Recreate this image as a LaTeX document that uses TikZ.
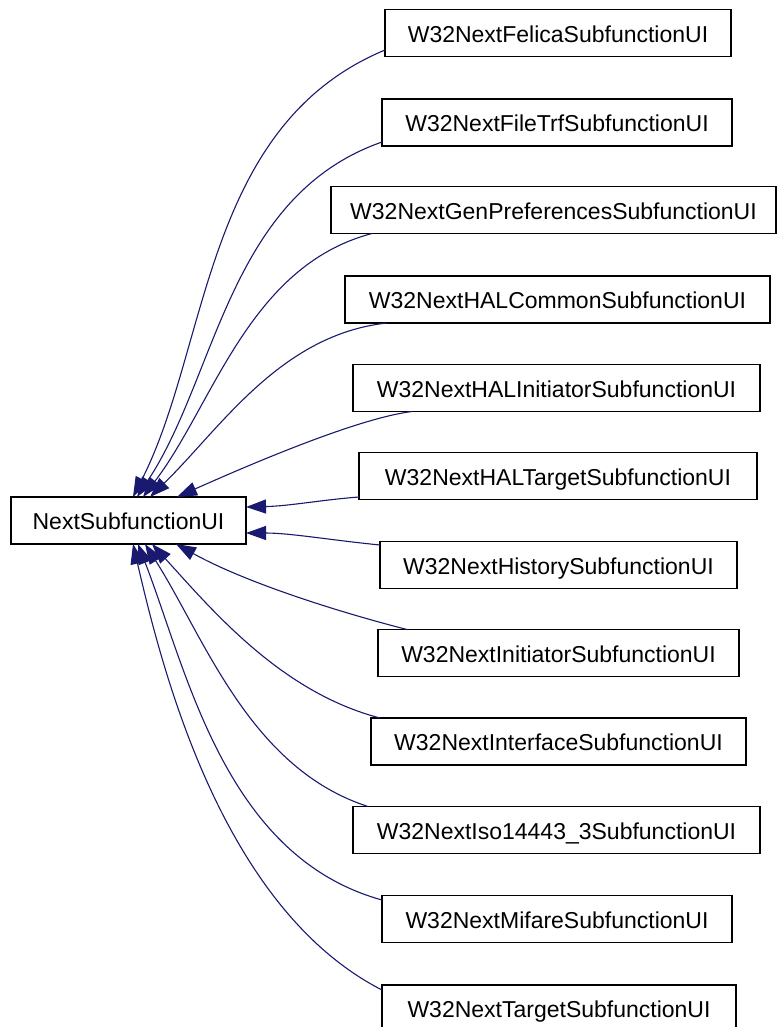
\documentclass[tikz,border=0pt]{standalone}
\usepackage{fontspec}
\setmainfont{Liberation Sans}
\usetikzlibrary{arrows.meta}
\definecolor{edgeblue}{RGB}{25,25,112}
\begin{document}
\begin{tikzpicture}[x=1pt,y=-1pt,
  cls/.style={draw=black, line width=1.2pt, fill=white, inner sep=0pt, outer sep=0pt,
    minimum height=47pt, text height=18.5pt, text depth=0pt,
    font=\fontsize{23}{27}\selectfont},
  inherit/.style={draw=edgeblue, line width=1.1pt,
    -{Triangle[length=20pt,width=14pt]}},
]
\clip (0,0) rectangle (777,1027);
\fill[white] (0,0) rectangle (777,1027);

% base class
\node[cls, minimum width=235pt] (main) at (128.5,520.5) {NextSubfunctionUI};

% derived classes
\node[cls, minimum width=346pt] (felica)    at (558,33)      {W32NextFelicaSubfunctionUI};
\node[cls, minimum width=350pt] (filetrf)   at (557,122.5)   {W32NextFileTrfSubfunctionUI};
\node[cls, minimum width=445pt] (genpref)   at (553.5,210)   {W32NextGenPreferencesSubfunctionUI};
\node[cls, minimum width=425pt] (halcommon) at (557.5,299.5) {W32NextHALCommonSubfunctionUI};
\node[cls, minimum width=407pt] (halinit)   at (556.5,388)   {W32NextHALInitiatorSubfunctionUI};
\node[cls, minimum width=398pt] (haltarget) at (558,476)     {W32NextHALTargetSubfunctionUI};
\node[cls, minimum width=357pt] (history)   at (558.5,565)   {W32NextHistorySubfunctionUI};
\node[cls, minimum width=361pt] (initiator) at (558.5,653)   {W32NextInitiatorSubfunctionUI};
\node[cls, minimum width=375pt] (interface) at (558.5,741.5) {W32NextInterfaceSubfunctionUI};
\node[cls, minimum width=407pt] (iso)       at (556.5,830)   {W32NextIso14443\_3SubfunctionUI};
\node[cls, minimum width=350pt] (mifare)    at (557,919)     {W32NextMifareSubfunctionUI};
\node[cls, minimum width=354pt] (target)    at (559,1008.5)  {W32NextTargetSubfunctionUI};

% inheritance edges
\draw[inherit] ([yshift=-17pt]felica.west) .. controls (203.5,125.5) and (209.5,346.5) .. ([xshift=4.5pt]main.north);
\draw[inherit] ([yshift=-19.5pt]filetrf.west) .. controls (228.3,195.8) and (217.2,375.7) .. ([xshift=8.5pt]main.north);
\draw[inherit] ([xshift=41pt]genpref.south west) .. controls (248.8,265.9) and (213.7,403.9) .. ([xshift=14.5pt]main.north);
\draw[inherit] ([xshift=42pt]halcommon.south west) .. controls (280.4,334.5) and (220.3,428.5) .. ([xshift=21.5pt]main.north);
\draw[inherit] ([xshift=59pt]halinit.south west) .. controls (360,418) and (260,460) .. ([xshift=48.5pt]main.north);
\draw[inherit] ([yshift=2.5pt]haltarget.south west) .. controls (320,500) and (290,506) .. ([yshift=13.5pt]main.east);
\draw[inherit] ([yshift=20pt]history.west) .. controls (330,540) and (290,533) .. ([yshift=-12.5pt]main.east);
\draw[inherit] ([xshift=29pt]initiator.north west) .. controls (350,615) and (250,585) .. ([xshift=47.5pt]main.south);
\draw[inherit] ([xshift=9pt]interface.north west) .. controls (281.7,692.3) and (214.2,612.5) .. ([xshift=23.5pt]main.south);
\draw[inherit] ([xshift=15pt]iso.north west) .. controls (249.6,768.3) and (204.6,637.6) .. ([xshift=16.5pt]main.south);
\draw[inherit] ([yshift=19pt]mifare.west) .. controls (225.1,856.6) and (187.6,672.6) .. ([xshift=9.5pt]main.south);
\draw[inherit] ([yshift=18.5pt]target.west) .. controls (222.2,908.2) and (162.6,671.6) .. ([xshift=4.5pt]main.south);
\end{tikzpicture}
\end{document}
